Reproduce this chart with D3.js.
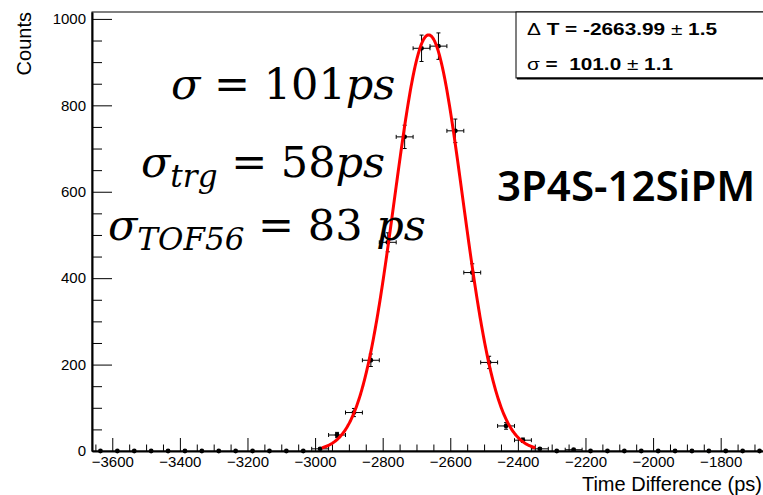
<!DOCTYPE html>
<html>
<head>
<meta charset="utf-8">
<script src="https://cdn.jsdelivr.net/npm/d3@7"></script>
<style>
  html, body { margin: 0; padding: 0; background: #fff; }
  svg { display: block; }
  .tick text { font-family: "Liberation Sans", Arial, sans-serif; font-size: 15px; fill: #000; }
</style>
</head>
<body>
<svg id="chart" width="763" height="495"></svg>
<script>
// Histogram: 40 bins of 50 ps from -3660 to -1660 ps
const histLow = -3660;
const binWidth = 50;
const counts = [
  0, 0, 0, 0, 0, 0, 0, 0, 0, 0,
  0, 0, 0, 5, 37, 89, 210, 483, 727, 932,
  937, 741, 413, 205, 58, 25, 5, 0, 3, 0,
  0, 0, 0, 0, 0, 0, 0, 0, 0, 0
];

// Gaussian fit result
const fitMean = -2663.99;
const fitMeanErr = 1.5;
const fitSigma = 101.0;
const fitSigmaErr = 1.1;
const fitPeak = 963;
const fitRange = [-2980, -2348];

// Axis ticks
const xMajorTicks = [-3600, -3400, -3200, -3000, -2800, -2600, -2400, -2200, -2000, -1800];
const yMajorTicks = [0, 200, 400, 600, 800, 1000];

// Annotation text
const resLines = [
  { main: "σ", sub: "", rest: "101", unit: "ps", x: 171, y: 99 },
  { main: "σ", sub: "trg", rest: "58", unit: "ps", x: 141, y: 177 },
  { main: "σ", sub: "TOF56", rest: "83 ", unit: "ps", x: 108, y: 240 }
];
const setupLabel = "3P4S-12SiPM";

const svg = d3.select("#chart");
const W = 763, H = 495;
svg.append("rect").attr("width", W).attr("height", H).attr("fill", "#fff");

const frame = { left: 92, right: 768, top: 12, bottom: 451 };
const histHigh = histLow + binWidth * counts.length;

const x = d3.scaleLinear().domain([histLow, histHigh]).range([frame.left, frame.right]);
const y = d3.scaleLinear().domain([0, 1016]).range([frame.bottom, frame.top]);

// Frame
svg.append("rect")
  .attr("x", frame.left).attr("y", frame.top)
  .attr("width", frame.right - frame.left).attr("height", frame.bottom - frame.top)
  .attr("fill", "none").attr("stroke", "#000").attr("stroke-width", 1);

const fmt = d => d < 0 ? "\u2212" + Math.abs(d) : String(d);

// Minor ticks
const xMinor = d3.range(-3650, histHigh, 50).filter(v => v % 200 !== 0);
const yMinor = d3.range(50, 1016, 50).filter(v => v % 200 !== 0);

svg.append("g").attr("transform", `translate(0,${frame.bottom})`)
  .call(d3.axisBottom(x).tickValues(xMinor).tickSize(-6.5).tickSizeOuter(0).tickFormat(""))
  .call(g => g.select(".domain").remove())
  .call(g => g.selectAll("line").attr("stroke", "#000"));

svg.append("g").attr("transform", `translate(${frame.left},0)`)
  .call(d3.axisLeft(y).tickValues(yMinor).tickSize(-10).tickSizeOuter(0).tickFormat(""))
  .call(g => g.select(".domain").remove())
  .call(g => g.selectAll("line").attr("stroke", "#000"));

// Major ticks and labels
svg.append("g").attr("transform", `translate(0,${frame.bottom})`)
  .call(d3.axisBottom(x).tickValues(xMajorTicks).tickSize(-13).tickSizeOuter(0).tickPadding(5).tickFormat(fmt))
  .call(g => g.select(".domain").attr("stroke", "#000").attr("stroke-width", 2))
  .call(g => g.selectAll("line").attr("stroke", "#000"));

svg.append("g").attr("transform", `translate(${frame.left},0)`)
  .call(d3.axisLeft(y).tickValues(yMajorTicks).tickSize(-20).tickSizeOuter(0).tickPadding(6).tickFormat(fmt))
  .call(g => g.select(".domain").attr("stroke", "#000").attr("stroke-width", 2))
  .call(g => g.selectAll("line").attr("stroke", "#000"));

// Axis titles
svg.append("text")
  .attr("transform", `translate(31,${frame.top}) rotate(-90)`)
  .attr("text-anchor", "end")
  .attr("font-family", "Liberation Sans, Arial, sans-serif")
  .attr("font-size", 20)
  .text("Counts");

svg.append("text")
  .attr("x", 762).attr("y", 491)
  .attr("text-anchor", "end")
  .attr("font-family", "Liberation Sans, Arial, sans-serif")
  .attr("font-size", 20)
  .text("Time Difference (ps)");

// Data points with error bars
const bins = counts.map((c, i) => ({
  lo: histLow + i * binWidth,
  hi: histLow + (i + 1) * binWidth,
  mid: histLow + (i + 0.5) * binWidth,
  c: c,
  e: Math.sqrt(c)
}));

const pts = svg.append("g").attr("stroke", "#000").attr("stroke-width", 1);
const cap = 2;
bins.filter(b => b.c > 0).forEach(b => {
  const cx = x(b.mid), cy = y(b.c);
  // horizontal bar with end caps
  pts.append("line").attr("x1", x(b.lo)).attr("x2", x(b.hi)).attr("y1", cy).attr("y2", cy);
  pts.append("line").attr("x1", x(b.lo)).attr("x2", x(b.lo)).attr("y1", cy - cap).attr("y2", cy + cap);
  pts.append("line").attr("x1", x(b.hi)).attr("x2", x(b.hi)).attr("y1", cy - cap).attr("y2", cy + cap);
  // vertical bar with end caps
  pts.append("line").attr("x1", cx).attr("x2", cx).attr("y1", y(b.c - b.e)).attr("y2", y(b.c + b.e));
  pts.append("line").attr("x1", cx - cap).attr("x2", cx + cap).attr("y1", y(b.c - b.e)).attr("y2", y(b.c - b.e));
  pts.append("line").attr("x1", cx - cap).attr("x2", cx + cap).attr("y1", y(b.c + b.e)).attr("y2", y(b.c + b.e));
});

svg.append("g").selectAll("circle").data(bins).join("circle")
  .attr("cx", d => x(d.mid)).attr("cy", d => y(d.c))
  .attr("r", 2.4).attr("fill", "#000");

// Gaussian fit curve
const gauss = v => fitPeak * Math.exp(-0.5 * Math.pow((v - fitMean) / fitSigma, 2));
const fitPts = d3.range(fitRange[0], fitRange[1] + 0.001, 2).map(v => [v, gauss(v)]);
svg.append("path")
  .datum(fitPts)
  .attr("fill", "none").attr("stroke", "#ff0000").attr("stroke-width", 3)
  .attr("d", d3.line().x(d => x(d[0])).y(d => y(d[1])).curve(d3.curveLinear));

// Statistics box
const box = svg.append("g");
box.append("rect").attr("x", 516).attr("y", frame.top).attr("width", 260).attr("height", 66)
  .attr("fill", "#fff").attr("stroke", "#000").attr("stroke-width", 1);
box.append("line").attr("x1", 517).attr("x2", 776).attr("y1", 78.5).attr("y2", 78.5)
  .attr("stroke", "#000").attr("stroke-width", 2);

const statFont = "Liberation Sans, Arial, sans-serif";
const s1 = box.append("text").attr("x", 527).attr("y", 35)
  .attr("font-family", statFont).attr("font-size", 17).attr("font-weight", "bold")
  .attr("textLength", 190).attr("lengthAdjust", "spacingAndGlyphs");
s1.append("tspan").attr("font-weight", "normal").text("\u0394");
s1.append("tspan").text(" T = " + fitMean.toFixed(2) + " ");
s1.append("tspan").attr("font-weight", "normal").text("\u00b1");
s1.append("tspan").text(" " + fitMeanErr.toFixed(1));

const s2 = box.append("text").attr("x", 527).attr("y", 70)
  .attr("font-family", statFont).attr("font-size", 17).attr("font-weight", "bold")
  .attr("xml:space", "preserve")
  .attr("textLength", 146).attr("lengthAdjust", "spacingAndGlyphs");
s2.append("tspan").attr("font-weight", "normal").text("\u03c3");
s2.append("tspan").text(" =  " + fitSigma.toFixed(1) + " ");
s2.append("tspan").attr("font-weight", "normal").text("\u00b1");
s2.append("tspan").text(" " + fitSigmaErr.toFixed(1));

// Resolution annotations
const mathFont = "DejaVu Serif, Liberation Serif, serif";
resLines.forEach(l => {
  const t = svg.append("text").attr("x", l.x).attr("y", l.y)
    .attr("font-family", mathFont).attr("font-size", 43).attr("fill", "#000")
    .attr("xml:space", "preserve");
  t.append("tspan").attr("font-style", "italic").text(l.main);
  if (l.sub) {
    t.append("tspan").attr("font-style", "italic").attr("font-size", 31).attr("dy", 10).text(l.sub);
    t.append("tspan").attr("dy", -10).text(" = " + l.rest);
  } else {
    t.append("tspan").text(" = " + l.rest);
  }
  t.append("tspan").attr("font-style", "italic").text(l.unit);
});

svg.append("text").attr("x", 497).attr("y", 201)
  .attr("font-family", "Noto Sans, sans-serif").attr("font-size", 42).attr("font-weight", 600)
  .text(setupLabel);
</script>
</body>
</html>
